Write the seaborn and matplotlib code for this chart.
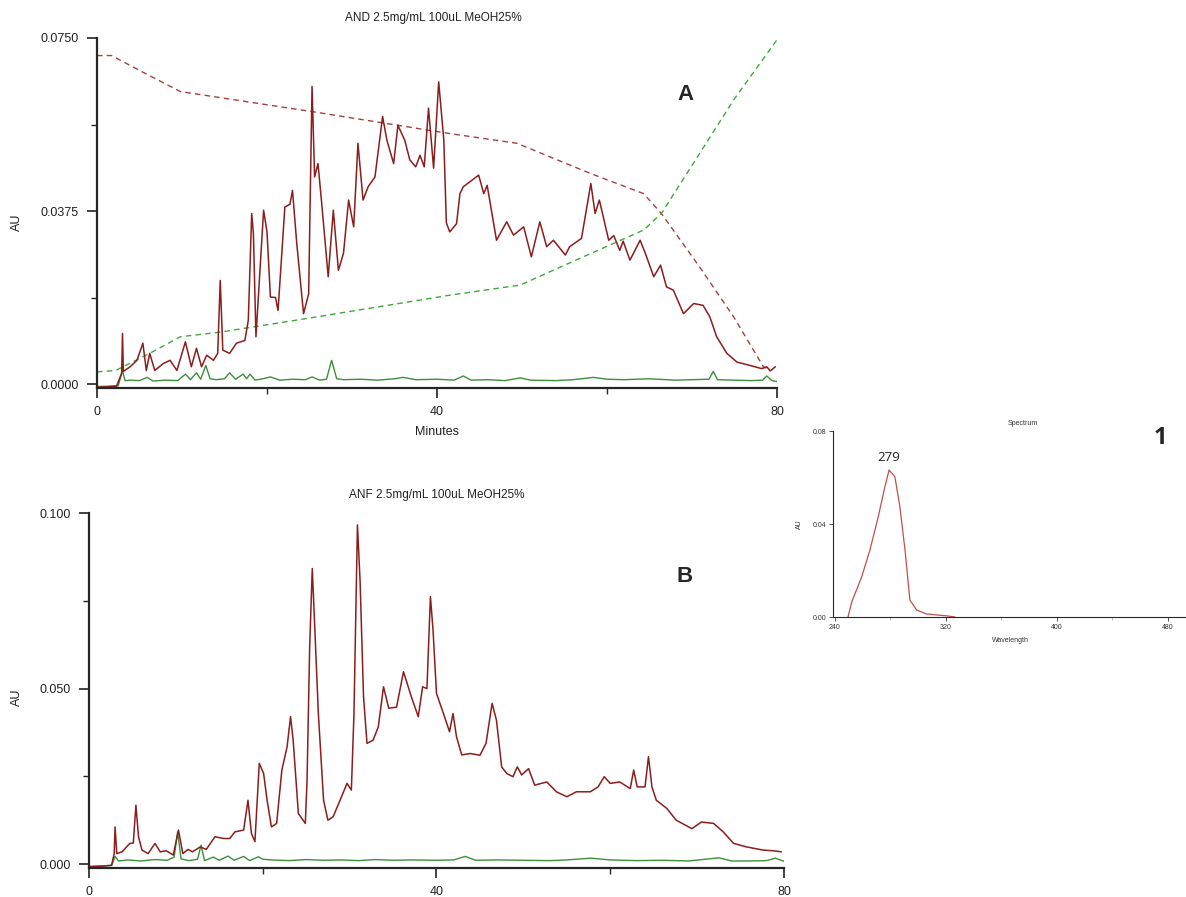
import pandas as pd
import seaborn as sns
import matplotlib.pyplot as plt
from matplotlib.ticker import FixedLocator

# ---- data ----
# panel A: AND 2.5mg/mL
a_red_t = [0, 1.0, 2.3, 2.9, 3.0, 3.1, 3.9, 4.7, 5.4, 5.8,
           6.2, 6.8, 7.8, 8.6, 9.4, 10.4, 11.1, 11.7, 12.3, 12.9,
           13.7, 14.2, 14.5, 14.8, 15.6, 16.4, 17.4, 17.8, 18.2, 18.4,
           18.7, 19.6, 20.0, 20.4, 21.0, 21.3, 22.1, 22.7, 23.0, 23.5,
           24.3, 24.9, 25.3, 25.6, 26.0, 26.4, 27.2, 27.8, 28.4, 29.0,
           29.6, 30.2, 30.7, 31.3, 31.9, 32.7, 33.6, 34.1, 34.9, 35.4,
           36.2, 36.8, 37.5, 38.0, 38.5, 39.0, 39.6, 40.2, 40.8, 41.1,
           41.5, 42.3, 42.7, 43.1, 43.9, 44.9, 45.5, 45.9, 47.0, 48.2,
           49.0, 50.2, 51.1, 52.1, 52.9, 53.7, 55.1, 55.6, 57.0, 58.1,
           58.6, 59.1, 60.2, 60.8, 61.5, 61.9, 62.7, 63.9, 64.5, 65.5,
           66.3, 67.0, 67.8, 69.0, 70.2, 71.3, 72.1, 72.9, 74.1, 75.3,
           76.8, 78.2, 78.8, 79.2, 79.8]
a_red_au = [-0.0006, -0.0006, -0.0004, 0.0024, 0.0110, 0.0028, 0.0038, 0.0052, 0.0089, 0.0030,
            0.0067, 0.0030, 0.0045, 0.0052, 0.0030, 0.0092, 0.0038, 0.0078, 0.0038, 0.0063,
            0.0052, 0.0067, 0.0225, 0.0074, 0.0067, 0.0089, 0.0095, 0.0139, 0.0370, 0.0327,
            0.0103, 0.0377, 0.0330, 0.0189, 0.0188, 0.0160, 0.0384, 0.0390, 0.0420, 0.0305,
            0.0153, 0.0196, 0.0645, 0.0449, 0.0478, 0.0399, 0.0233, 0.0377, 0.0247, 0.0284,
            0.0399, 0.0341, 0.0522, 0.0399, 0.0428, 0.0449, 0.0580, 0.0529, 0.0478, 0.0561,
            0.0529, 0.0486, 0.0471, 0.0496, 0.0471, 0.0598, 0.0468, 0.0655, 0.0529, 0.0350,
            0.0330, 0.0348, 0.0413, 0.0428, 0.0439, 0.0453, 0.0413, 0.0431, 0.0312, 0.0352,
            0.0323, 0.0341, 0.0276, 0.0352, 0.0298, 0.0312, 0.0280, 0.0298, 0.0316, 0.0435,
            0.0370, 0.0399, 0.0312, 0.0322, 0.0290, 0.0310, 0.0269, 0.0312, 0.0284, 0.0233,
            0.0258, 0.0211, 0.0204, 0.0153, 0.0175, 0.0171, 0.0146, 0.0103, 0.0067, 0.0048,
            0.0041, 0.0034, 0.0038, 0.0029, 0.0038]

a_green_t = [0, 2.5, 3.0, 3.3, 4.0, 5.0, 5.9, 6.6, 8.0, 9.5,
             10.4, 11.0, 11.7, 12.2, 12.8, 13.3, 14.0, 15.0, 15.6, 16.3,
             17.2, 17.6, 18.0, 18.6, 19.5, 20.4, 21.5, 23.0, 24.5, 25.3,
             26.2, 27.0, 27.6, 28.2, 29.0, 31.0, 33.0, 35.0, 36.0, 37.5,
             40.0, 42.0, 43.1, 44.0, 46.0, 48.0, 49.8, 51.0, 54.0, 56.0,
             58.4, 60.0, 62.0, 65.0, 68.0, 70.0, 72.0, 72.5, 73.0, 75.0,
             77.0, 78.3, 78.8, 79.4, 80.0]
a_green_au = [-0.0005, -0.0003, 0.0030, 0.0008, 0.0009, 0.0008, 0.0015, 0.0007, 0.0009, 0.0008,
              0.0022, 0.0010, 0.0025, 0.0011, 0.0041, 0.0012, 0.0010, 0.0012, 0.0025, 0.0011,
              0.0022, 0.0012, 0.0022, 0.0009, 0.0012, 0.0016, 0.0009, 0.0011, 0.0010, 0.0016,
              0.0009, 0.0011, 0.0052, 0.0012, 0.0010, 0.0011, 0.0009, 0.0012, 0.0015, 0.0010,
              0.0011, 0.0009, 0.0018, 0.0009, 0.0010, 0.0008, 0.0014, 0.0009, 0.0008, 0.0010,
              0.0015, 0.0011, 0.0010, 0.0012, 0.0009, 0.0010, 0.0011, 0.0028, 0.0010, 0.0009,
              0.0008, 0.0009, 0.0018, 0.0008, 0.0006]

# gradient profiles (dashed)
grad_red_t = [0, 1.7, 5.6, 9.8, 25.5, 41.5, 49.4, 58.0, 64.3, 66.4, 70.9, 74.9, 78.4, 79.2]
grad_red_au = [0.0712, 0.0712, 0.0674, 0.0634, 0.0590, 0.0543, 0.0522, 0.0457, 0.0413, 0.0370,
               0.0254, 0.0146, 0.0038, 0.0031]
grad_green_t = [0, 2.2, 6.2, 9.8, 14.5, 24.5, 41.5, 49.8, 57.2, 64.3, 66.4, 70.9, 74.9, 80.0]
grad_green_au = [0.0027, 0.0030, 0.0067, 0.0103, 0.0113, 0.0142, 0.0193, 0.0215, 0.0276, 0.0334,
                 0.0370, 0.0500, 0.0616, 0.0746]

# panel B: ANF 2.5mg/mL
b_red_t = [0, 1.5, 2.6, 2.9, 3.0, 3.2, 3.8, 4.7, 5.1, 5.4,
           5.7, 6.1, 6.8, 7.6, 8.2, 8.9, 9.7, 10.3, 10.8, 11.4,
           11.9, 12.8, 13.5, 14.5, 15.5, 16.2, 16.8, 17.8, 18.3, 18.7,
           19.1, 19.6, 20.1, 20.5, 21.0, 21.6, 22.2, 22.8, 23.2, 23.5,
           24.1, 24.9, 25.1, 25.4, 25.7, 26.0, 26.4, 27.0, 27.5, 28.1,
           28.9, 29.7, 30.2, 30.5, 30.9, 31.2, 31.6, 32.0, 32.7, 33.3,
           33.9, 34.5, 35.4, 36.2, 37.1, 37.9, 38.4, 38.9, 39.3, 39.6,
           40.0, 40.8, 41.5, 41.9, 42.3, 42.9, 43.9, 45.0, 45.7, 46.4,
           46.9, 47.5, 48.1, 48.8, 49.3, 49.8, 50.6, 51.3, 52.7, 53.8,
           55.0, 56.1, 57.7, 58.6, 59.3, 60.0, 61.1, 62.3, 62.7, 63.1,
           64.0, 64.4, 64.8, 65.3, 66.5, 67.6, 69.4, 70.5, 71.9, 73.0,
           74.2, 75.7, 77.6, 78.8, 79.7]
b_red_au = [-0.0008, -0.0006, -0.0003, 0.0030, 0.0106, 0.0030, 0.0035, 0.0059, 0.0060, 0.0168,
            0.0078, 0.0040, 0.0030, 0.0059, 0.0035, 0.0038, 0.0026, 0.0097, 0.0030, 0.0042,
            0.0035, 0.0049, 0.0042, 0.0078, 0.0073, 0.0073, 0.0092, 0.0097, 0.0182, 0.0087,
            0.0064, 0.0287, 0.0258, 0.0182, 0.0106, 0.0116, 0.0268, 0.0334, 0.0420, 0.0353,
            0.0144, 0.0116, 0.0239, 0.0619, 0.0842, 0.0667, 0.0429, 0.0182, 0.0125, 0.0135,
            0.0182, 0.0230, 0.0211, 0.0429, 0.0966, 0.0809, 0.0477, 0.0344, 0.0353, 0.0391,
            0.0505, 0.0444, 0.0447, 0.0548, 0.0477, 0.0420, 0.0505, 0.0500, 0.0762, 0.0667,
            0.0486, 0.0429, 0.0377, 0.0429, 0.0363, 0.0311, 0.0315, 0.0310, 0.0344, 0.0458,
            0.0410, 0.0277, 0.0258, 0.0249, 0.0277, 0.0254, 0.0272, 0.0225, 0.0234, 0.0206,
            0.0192, 0.0206, 0.0206, 0.0220, 0.0249, 0.0230, 0.0234, 0.0215, 0.0268, 0.0220,
            0.0220, 0.0306, 0.0220, 0.0182, 0.0159, 0.0125, 0.0101, 0.0120, 0.0116, 0.0092,
            0.0059, 0.0049, 0.0040, 0.0038, 0.0035]

b_green_t = [0, 2.6, 3.0, 3.4, 4.5, 6.0, 7.5, 9.0, 9.8, 10.2,
             10.6, 11.5, 12.5, 12.9, 13.3, 14.3, 15.0, 16.0, 16.7, 17.8,
             18.5, 19.5, 20.0, 21.0, 23.0, 25.0, 27.0, 29.0, 31.0, 33.0,
             35.0, 37.0, 40.0, 42.0, 43.3, 44.5, 47.0, 50.0, 53.0, 55.0,
             57.8, 60.0, 63.0, 66.0, 69.0, 72.5, 74.0, 76.0, 78.0, 79.0,
             80.0]
b_green_au = [-0.0006, -0.0004, 0.0022, 0.0009, 0.0012, 0.0009, 0.0013, 0.0011, 0.0020, 0.0092,
              0.0015, 0.0010, 0.0014, 0.0054, 0.0010, 0.0020, 0.0011, 0.0023, 0.0011, 0.0022,
              0.0010, 0.0021, 0.0014, 0.0012, 0.0010, 0.0013, 0.0011, 0.0012, 0.0010, 0.0013,
              0.0011, 0.0012, 0.0011, 0.0012, 0.0022, 0.0011, 0.0012, 0.0011, 0.0010, 0.0012,
              0.0017, 0.0012, 0.0010, 0.0011, 0.0009, 0.0018, 0.0009, 0.0009, 0.0010, 0.0017,
              0.0008]

# UV spectrum of peak 1
spec_wl = [249.4, 252.2, 259.3, 265.2, 271.2, 276.0, 279.0, 283.2, 286.8, 290.5,
           294.0, 298.9, 306.0, 313.0, 320.5, 326.5]
spec_au = [0.0, 0.0066, 0.0173, 0.0288, 0.0431, 0.0560, 0.0632, 0.0603, 0.0474, 0.0288,
           0.0073, 0.0030, 0.0013, 0.0009, 0.0005, 0.0]

# ---- plotting ----
sns.set_style("ticks")
plt.rcParams['font.family'] = ['Liberation Sans', 'DejaVu Sans']

W, H = 1186, 897
fig = plt.figure(figsize=(W / 100, H / 100), dpi=100)


def fx(px):
    return px / W


def fy(py):
    return 1 - py / H


RED = '#8b1d1d'
GREEN = '#3d8f3d'
RED_D = '#a4403e'
GREEN_D = '#3fa83f'


def trace(ax, t, v, color, lw=1.0, ls='-'):
    df = pd.DataFrame({'t': t, 'v': v})
    sns.lineplot(data=df, x='t', y='v', ax=ax, color=color, linewidth=lw,
                 linestyle=ls, estimator=None, sort=False)


def style_axes(ax, yt, ylab, xt, xminor, yminor):
    sns.despine(ax=ax)
    ax.spines['left'].set_linewidth(1.6)
    ax.spines['bottom'].set_linewidth(1.6)
    ax.set_xlabel('')
    ax.set_ylabel('')
    ax.set_xticks(xt)
    ax.set_xticklabels([str(x) for x in xt])
    ax.set_yticks(yt)
    ax.set_yticklabels(ylab)
    ax.xaxis.set_minor_locator(FixedLocator(xminor))
    ax.yaxis.set_minor_locator(FixedLocator(yminor))
    ax.tick_params(which='major', direction='out', length=7, width=1.2,
                   labelsize=9, colors='#222222', pad=6)
    ax.tick_params(which='minor', direction='out', length=4, width=1.0)


# panel A
axA = fig.add_axes([fx(97), fy(388), fx(777) - fx(97), fy(38) - fy(388)])
trace(axA, grad_red_t, grad_red_au, RED_D, lw=1.0, ls=(0, (4, 3)))
trace(axA, grad_green_t, grad_green_au, GREEN_D, lw=1.0, ls=(0, (4, 3)))
trace(axA, a_green_t, a_green_au, GREEN, lw=1.0)
trace(axA, a_red_t, a_red_au, RED, lw=1.1)
axA.set_xlim(0, 80)
axA.set_ylim(-0.0008, 0.075)
style_axes(axA, [0, 0.0375, 0.075], ['0.0000', '0.0375', '0.0750'],
           [0, 40, 80], [20, 60], [0.01875, 0.05625])

fig.text(fx(433), fy(18), 'AND 2.5mg/mL 100uL MeOH25%', ha='center', va='center',
         fontsize=8.5, color='#222222')
fig.text(fx(437), fy(432), 'Minutes', ha='center', va='center', fontsize=9, color='#222222')
fig.text(fx(17), fy(222), 'AU', ha='center', va='center', rotation=90, fontsize=9,
         color='#222222')
fig.text(fx(685), fy(95), 'A', ha='center', va='center', fontsize=16, fontweight='bold')

# panel B
axB = fig.add_axes([fx(89), fy(868), fx(784) - fx(89), fy(513) - fy(868)])
trace(axB, b_green_t, b_green_au, GREEN, lw=1.0)
trace(axB, b_red_t, b_red_au, RED, lw=1.1)
axB.set_xlim(0, 80)
axB.set_ylim(-0.0011, 0.100)
style_axes(axB, [0, 0.05, 0.1], ['0.000', '0.050', '0.100'],
           [0, 40, 80], [20, 60], [0.025, 0.075])

fig.text(fx(437), fy(495), 'ANF 2.5mg/mL 100uL MeOH25%', ha='center', va='center',
         fontsize=8.5, color='#222222')
fig.text(fx(17), fy(697), 'AU', ha='center', va='center', rotation=90, fontsize=9,
         color='#222222')
fig.text(fx(685), fy(577), 'B', ha='center', va='center', fontsize=16, fontweight='bold')

# spectrum inset
axS = fig.add_axes([fx(833), fy(617), 1 - fx(833), fy(431) - fy(617)])
trace(axS, spec_wl, spec_au, '#c0504d', lw=0.9)
axS.set_xlim(238.6, 493)
axS.set_ylim(0, 0.08)
sns.despine(ax=axS)
axS.spines['left'].set_linewidth(0.8)
axS.spines['bottom'].set_linewidth(0.8)
axS.set_xlabel('')
axS.set_ylabel('')
axS.set_xticks([240, 320, 400, 480])
axS.set_xticklabels(['240', '320', '400', '480'])
axS.set_yticks([0, 0.04, 0.08])
axS.set_yticklabels(['0.00', '0.04', '0.08'])
axS.xaxis.set_minor_locator(FixedLocator([280, 360, 440]))
axS.tick_params(which='major', direction='out', length=3, width=0.6, labelsize=5,
                colors='#333333', pad=2)
axS.tick_params(which='minor', direction='out', length=2, width=0.5, colors='#999999')

fig.text(fx(1023), fy(423), 'Spectrum', ha='center', va='center', fontsize=5, color='#333333')
fig.text(fx(1010), fy(640), 'Wavelength', ha='center', va='center', fontsize=5,
         color='#333333')
fig.text(fx(799), fy(524), 'AU', ha='center', va='center', rotation=90, fontsize=5,
         color='#333333')
axS.text(279, 0.0685, '279', ha='center', va='center', fontsize=9.5,
         family=['Open Sans', 'DejaVu Sans'], color='#222222')
fig.text(fx(1160), fy(438), '1', ha='center', va='center', fontsize=17, fontweight='bold',
         family=['Open Sans', 'DejaVu Sans'])

fig.savefig('out.png', dpi=100)
